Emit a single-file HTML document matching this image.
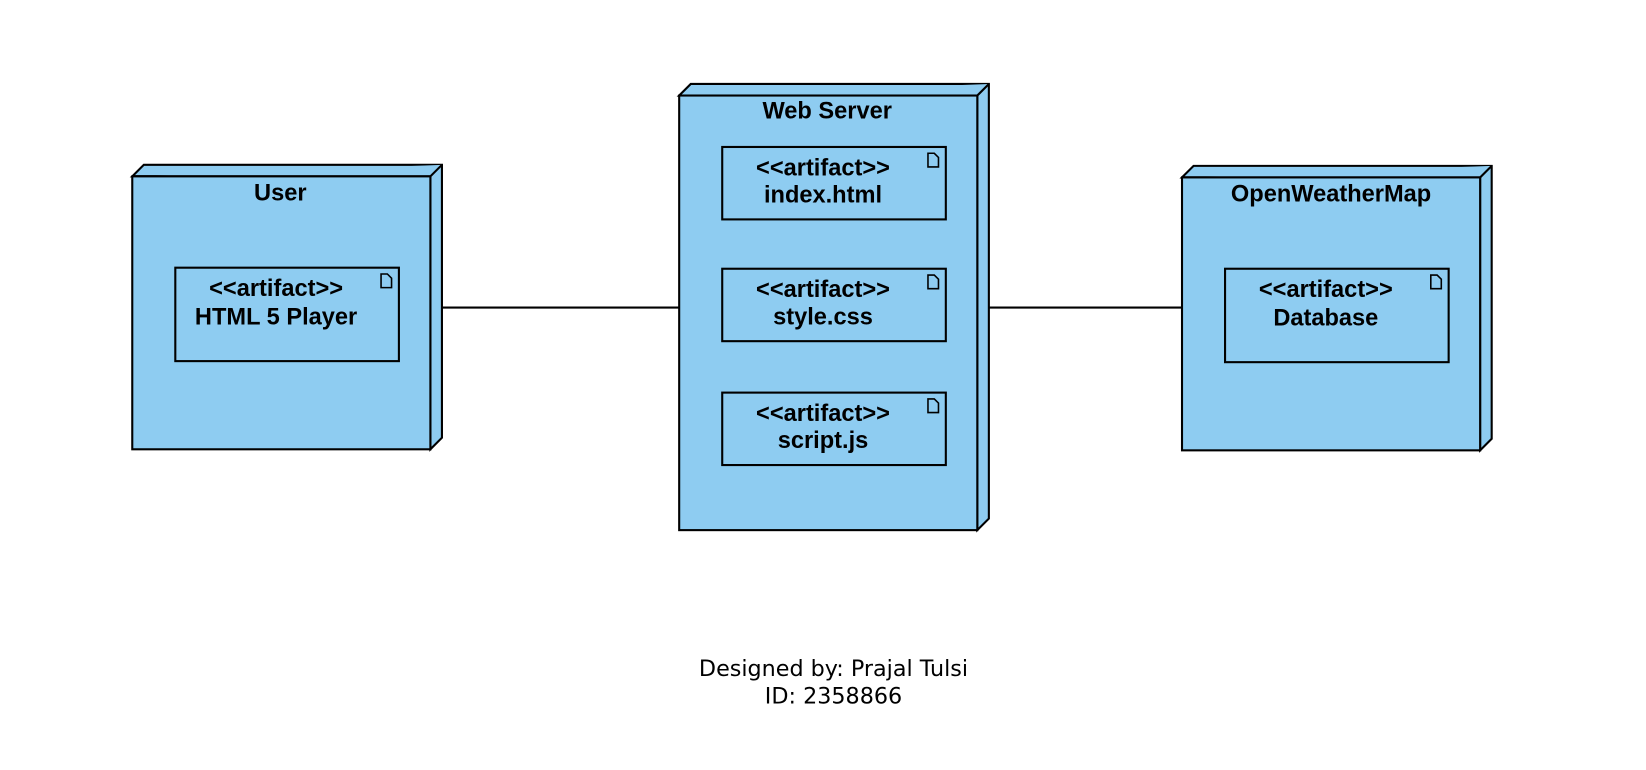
<!DOCTYPE html>
<html><head><style>html,body{margin:0;padding:0;background:#fff}</style></head><body>
<svg width="1646" height="770" viewBox="0 0 1568 733.5" preserveAspectRatio="none" xmlns="http://www.w3.org/2000/svg" font-family="Liberation Sans, Arial, sans-serif" style="display:block">
<rect width="1568" height="733.5" fill="#fff"/>
<g stroke="#000" stroke-width="2" fill="#8ECCF1">
<path d="M126 168 L137 157 L421 157 L421 417 L410 428 L410 168 Z"/>
<path d="M126 168 L410 168 L421 157"/>
<rect x="126" y="168" width="284" height="260"/>
<path d="M647 91 L658 80 L942 80 L942 494 L931 505 L931 91 Z"/>
<path d="M647 91 L931 91 L942 80"/>
<rect x="647" y="91" width="284" height="414"/>
<path d="M1126 169 L1137 158 L1421 158 L1421 418 L1410 429 L1410 169 Z"/>
<path d="M1126 169 L1410 169 L1421 158"/>
<rect x="1126" y="169" width="284" height="260"/>
<rect x="167" y="255" width="213" height="89"/>
<rect x="688" y="140" width="213" height="69"/>
<rect x="688" y="256" width="213" height="69"/>
<rect x="688" y="374" width="213" height="69"/>
<rect x="1167" y="256" width="213" height="89"/>
</g>
<g stroke="#000" stroke-width="2">
<line x1="421" y1="293" x2="647" y2="293"/>
<line x1="942" y1="293" x2="1126" y2="293"/>
</g>
<g fill="none" stroke="#000" stroke-width="1.5">
<path d="M363 261 h6 l4 4 v9 h-10 Z"/>
<path d="M884 146 h6 l4 4 v9 h-10 Z"/>
<path d="M884 262 h6 l4 4 v9 h-10 Z"/>
<path d="M884 380 h6 l4 4 v9 h-10 Z"/>
<path d="M1363 262 h6 l4 4 v9 h-10 Z"/>
</g>
<g font-weight="bold" font-size="22.5" text-anchor="middle" fill="#000">
<text x="267" y="191">User</text>
<text x="788" y="113">Web Server</text>
<text x="1268" y="192">OpenWeatherMap</text>
<text x="263" y="282">&lt;&lt;artifact&gt;&gt;</text>
<text x="263" y="309">HTML 5 Player</text>
<text x="784" y="167">&lt;&lt;artifact&gt;&gt;</text>
<text x="784" y="193">index.html</text>
<text x="784" y="283">&lt;&lt;artifact&gt;&gt;</text>
<text x="784" y="309">style.css</text>
<text x="784" y="401">&lt;&lt;artifact&gt;&gt;</text>
<text x="784" y="427">script.js</text>
<text x="1263" y="283">&lt;&lt;artifact&gt;&gt;</text>
<text x="1263" y="310">Database</text>
</g>
<g font-size="21.2" text-anchor="middle" fill="#000" font-family="DejaVu Sans, Liberation Sans, sans-serif">
<text x="794" y="644">Designed by: Prajal Tulsi</text>
<text x="794" y="670">ID: 2358866</text>
</g>
</svg>
</body></html>
